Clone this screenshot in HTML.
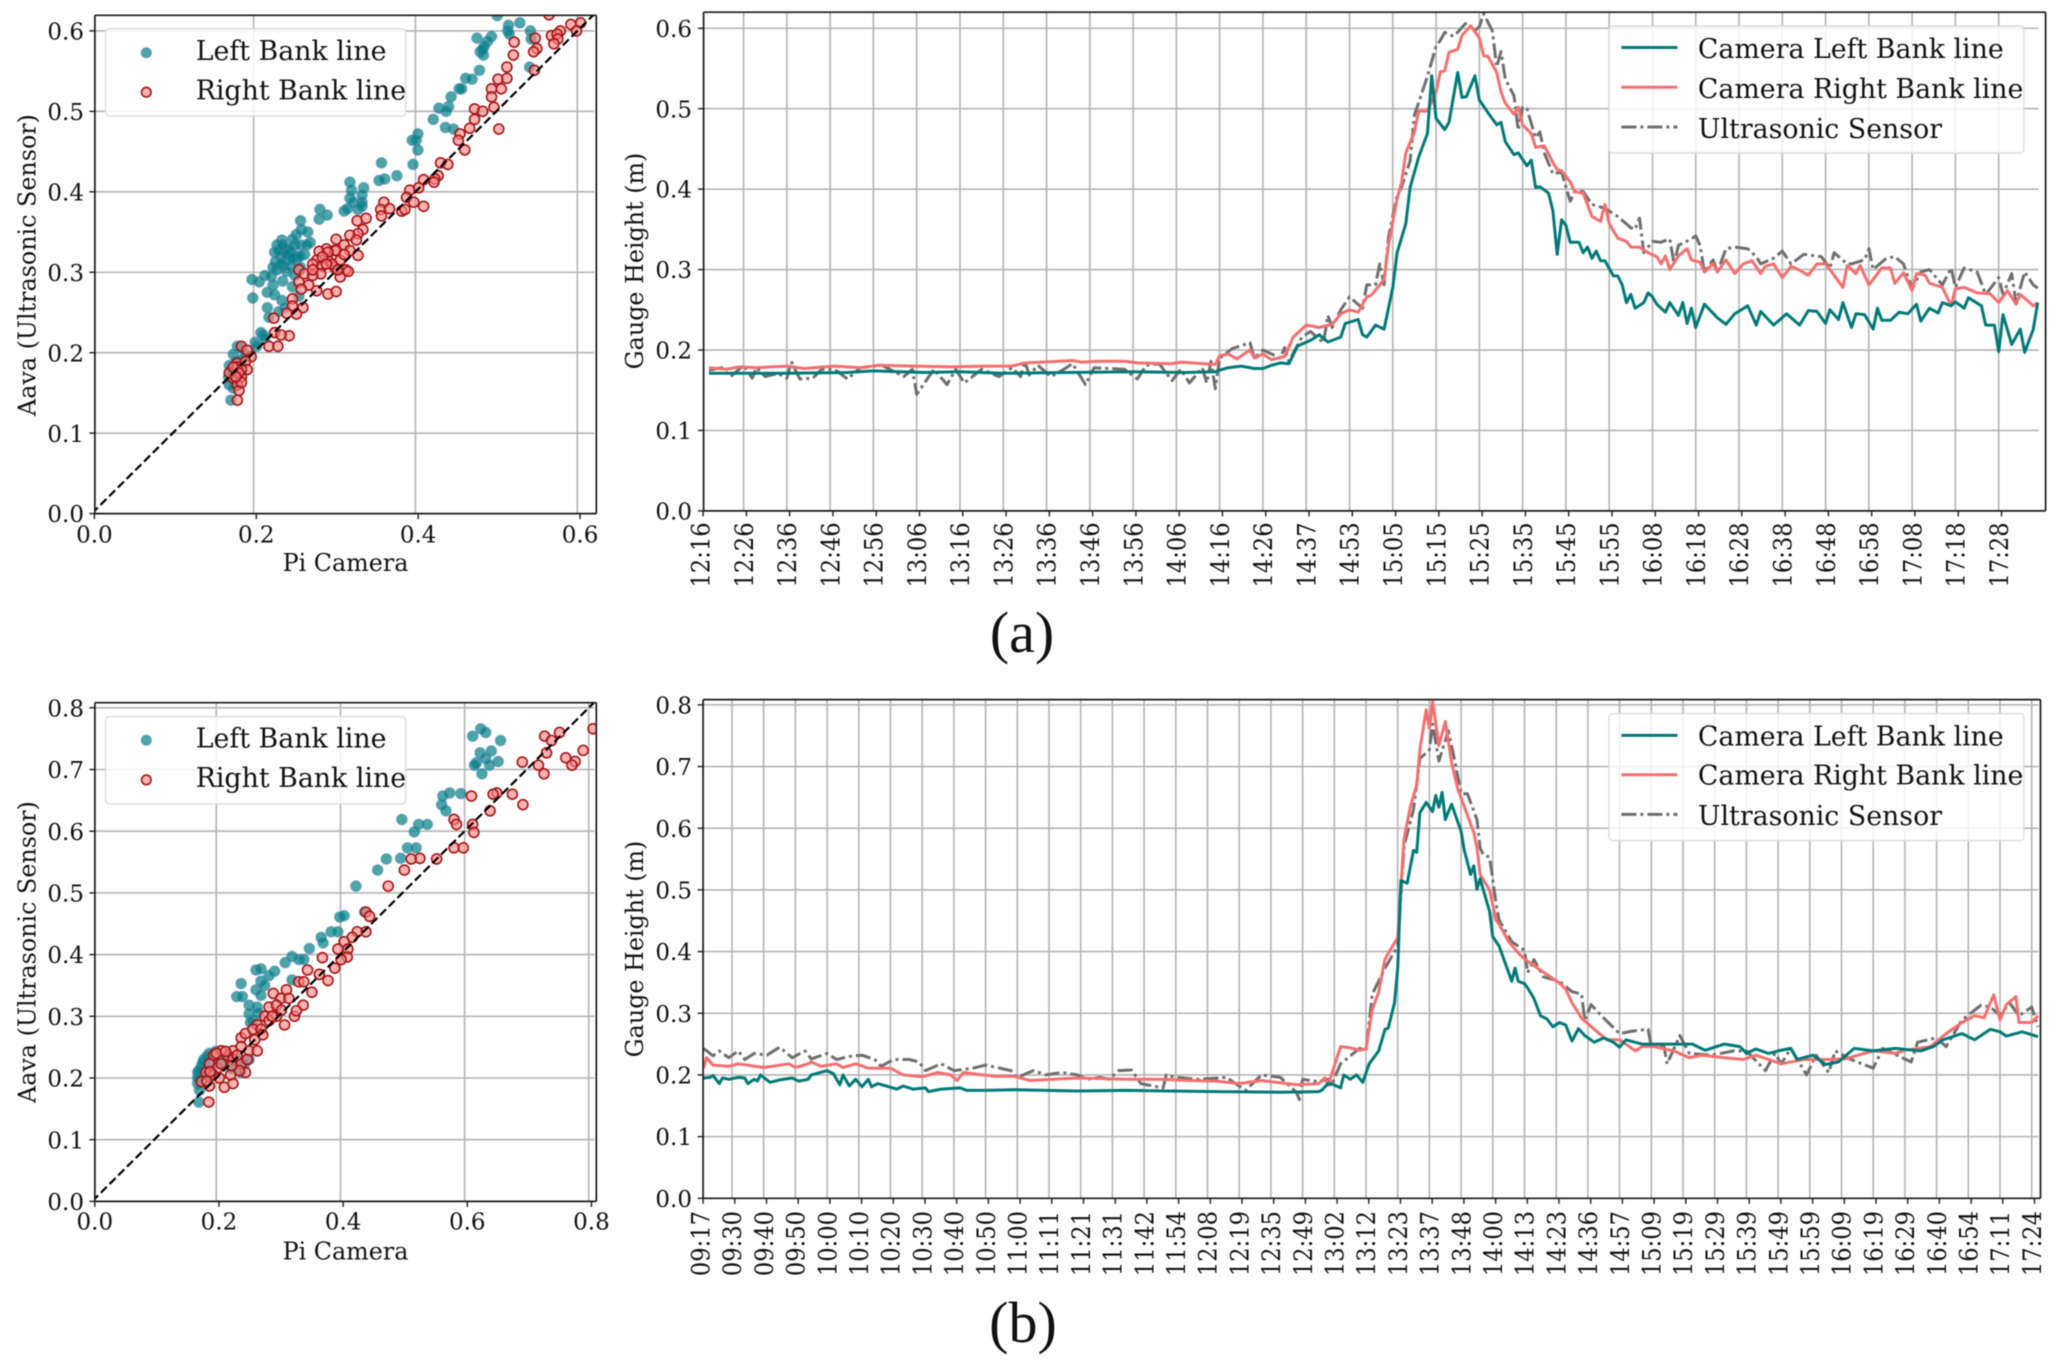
<!DOCTYPE html>
<html lang="en">
<head>
<meta charset="utf-8">
<title>Gauge height comparison charts</title>
<style>
html,body{margin:0;padding:0;background:#fff;width:2067px;height:1364px;overflow:hidden}
svg{display:block;filter:blur(0.45px)}
text{font-family:"DejaVu Serif","Liberation Serif",serif;fill:#111}
.caption{font-family:"Liberation Serif","DejaVu Serif",serif;font-size:58px}
</style>
</head>
<body>
<svg id="figure" xmlns="http://www.w3.org/2000/svg" width="2067" height="1364" viewBox="0 0 2067 1364">
  <rect x="0" y="0" width="2067" height="1364" fill="#fff"/>
  <text class="caption" x="1022" y="652" text-anchor="middle">(a)</text>
  <text class="caption" x="1023" y="1342" text-anchor="middle">(b)</text>
</svg>
<script>
// ---------- Chart data: panel (a) time series ----------
const aTimeLabels = ["12:16","12:26","12:36","12:46","12:56","13:06","13:16","13:26","13:36","13:46","13:56","14:06","14:16","14:26","14:37","14:53","15:05","15:15","15:25","15:35","15:45","15:55","16:08","16:18","16:28","16:38","16:48","16:58","17:08","17:18","17:28"];
const aLeftSample = [2,20,34,40,52,60,70,85,100,112,
119,120,122,125,128,130,132,134,136,138,
141,143,145,148,149,152,153,154,156,158,
160,161,163,164,166,168,169,170,172,173,
175,176,177,179,180,182,184,185,186,188,
189,191,192,193,194,196,197,198,199,200,
201,203,204,205,206,207,208,209,211,212,
213,214,215,216,218,219,220,221,223,224,
226,227,228,229,230,232,235,237,239,242,
244,245,248,251,254,256,258,260,261,263,
264,266,267,269,271,272,273,275,277,279,
281,282,284,286,287,289,290,292,293,296,
297,299,300,301,303,305,306,308,309];
const aLeftHeight = [.171,.171,.172,.174,.172,.173,.171,.172,.173,.172,
.173,.175,.178,.18,.177,.177,.181,.184,.183,.205,
.212,.219,.21,.216,.233,.238,.219,.216,.231,.226,
.278,.321,.357,.402,.44,.469,.541,.488,.474,.483,
.545,.514,.515,.541,.511,.495,.48,.483,.459,.443,
.445,.429,.436,.402,.403,.395,.373,.319,.362,.355,
.334,.334,.321,.328,.314,.323,.311,.311,.292,.292,
.281,.259,.269,.252,.259,.271,.266,.257,.247,.259,
.243,.259,.233,.252,.228,.257,.24,.232,.245,.255,
.231,.248,.231,.245,.231,.249,.248,.233,.25,.238,
.259,.228,.245,.244,.226,.252,.237,.237,.247,.245,
.257,.236,.252,.246,.259,.255,.26,.252,.265,.255,
.231,.231,.198,.244,.207,.226,.197,.226,.259];
const aRightSample = [2,6,9,13,20,24,31,37,41,50,
58,66,72,75,79,86,88,92,98,101,
109,111,119,120,122,124,127,128,130,132,
135,137,140,143,146,148,150,152,154,155,
157,158,159,161,162,163,165,166,168,170,
171,172,173,175,176,178,180,181,182,184,
185,186,188,189,190,192,193,195,197,198,
199,201,202,204,206,208,209,210,212,214,
215,217,219,221,222,223,224,226,228,229,
231,232,234,235,237,239,241,243,245,246,
248,250,252,253,256,258,260,261,264,265,
267,268,270,273,275,276,278,280,281,283,
284,287,289,290,292,295,298,300,302,304,
305,308,309];
const aRightHeight = [.178,.176,.179,.178,.18,.177,.18,.178,.181,.18,
.179,.18,.18,.184,.185,.187,.185,.186,.186,.184,
.183,.185,.182,.193,.195,.189,.2,.19,.195,.188,
.192,.216,.231,.228,.232,.245,.25,.247,.266,.268,
.281,.288,.331,.388,.407,.445,.471,.497,.497,.521,
.546,.547,.57,.574,.591,.603,.588,.566,.565,.545,
.521,.507,.493,.502,.48,.469,.452,.454,.433,.424,
.423,.409,.397,.395,.366,.36,.381,.357,.339,.335,
.328,.328,.321,.316,.307,.317,.3,.317,.326,.312,
.309,.297,.307,.297,.312,.295,.307,.311,.295,.304,
.307,.29,.304,.302,.293,.307,.307,.3,.278,.305,
.295,.305,.281,.302,.302,.283,.296,.274,.295,.293,
.283,.278,.255,.276,.278,.271,.27,.259,.274,.257,
.269,.255,.259];
const aSensorSample = [2,5,7,10,12,13,15,18,20,21,
23,26,28,31,34,37,42,47,49,50,
54,57,59,61,65,69,72,74,75,76,
78,81,84,86,89,91,98,101,103,106,
109,111,113,116,117,118,119,120,123,127,
128,130,134,135,136,139,141,144,145,146,
148,150,153,154,156,157,158,159,161,162,
164,165,168,170,171,172,174,175,177,179,
180,181,183,184,185,186,188,189,190,191,
193,194,195,197,199,201,202,204,206,209,
212,215,216,217,218,220,222,224,225,226,
229,230,231,232,234,235,237,239,242,244,
245,248,250,252,255,259,261,262,265,266,
269,270,271,274,276,278,280,282,284,287,
289,290,292,295,297,300,301,303,304,306,
308,309];
const aSensorHeight = [.175,.178,.167,.181,.165,.178,.167,.171,.165,.186,
.164,.165,.176,.176,.164,.178,.181,.167,.176,.145,
.176,.157,.176,.159,.176,.167,.178,.167,.186,.169,
.181,.167,.176,.183,.157,.178,.176,.164,.181,.183,
.162,.176,.159,.178,.159,.186,.152,.19,.202,.209,
.19,.2,.19,.203,.186,.216,.223,.209,.243,.228,
.25,.266,.252,.281,.281,.307,.281,.34,.392,.402,
.435,.492,.54,.578,.585,.595,.59,.595,.607,.597,
.602,.618,.597,.552,.571,.537,.516,.473,.502,.5,
.464,.471,.445,.419,.421,.385,.397,.397,.381,.376,
.366,.352,.35,.364,.321,.335,.334,.338,.307,.33,
.338,.342,.33,.297,.312,.297,.326,.328,.326,.316,
.307,.314,.323,.307,.319,.316,.302,.321,.307,.307,
.312,.326,.3,.314,.316,.307,.276,.297,.3,.281,
.302,.278,.302,.297,.269,.29,.269,.295,.259,.297,
.281,.277];

// ---------- Chart data: panel (b) time series ----------
const bTimeLabels = ["09:17","09:30","09:40","09:50","10:00","10:10","10:20","10:30","10:40","10:50","11:00","11:11","11:21","11:31","11:42","11:54","12:08","12:19","12:35","12:49","13:02","13:12","13:23","13:37","13:48","14:00","14:13","14:23","14:36","14:57","15:09","15:19","15:29","15:39","15:49","15:59","16:09","16:19","16:29","16:40","16:54","17:11","17:24"];
const bLeftSample = [1,3,4,6,7,9,12,14,15,17,
18,19,22,25,29,31,34,35,40,42,
44,45,47,49,51,53,54,56,62,64,
67,71,72,76,82,84,90,99,119,134,
148,163,183,195,196,198,199,202,203,205,
207,209,211,214,216,217,219,220,221,223,
225,226,227,229,231,232,233,234,235,237,
240,241,243,244,245,246,249,250,252,254,
256,257,258,260,261,263,265,267,269,271,
273,275,277,279,282,285,288,290,292,297,
303,307,313,317,323,328,330,333,337,340,
344,346,351,355,359,364,370,377,385,389,
392,398,402,407,410,412,417,422];
const bLeftHeight = [.195,.196,.199,.186,.195,.193,.196,.195,.186,.193,
.19,.2,.188,.192,.195,.19,.193,.2,.207,.202,
.184,.2,.182,.193,.181,.193,.181,.186,.177,.182,
.177,.179,.173,.177,.179,.175,.175,.176,.174,.175,
.174,.173,.172,.173,.175,.186,.186,.179,.2,.193,
.2,.188,.218,.239,.274,.276,.317,.373,.515,.511,
.564,.561,.625,.642,.627,.653,.634,.658,.614,.639,
.595,.564,.525,.539,.501,.518,.465,.424,.409,.38,
.352,.373,.352,.348,.341,.324,.296,.291,.278,.285,
.281,.255,.275,.264,.253,.26,.253,.245,.257,.25,
.25,.25,.25,.24,.25,.246,.235,.242,.235,.239,
.243,.225,.232,.217,.221,.243,.239,.243,.239,.246,
.257,.267,.257,.274,.27,.263,.27,.262];
const bRightSample = [1,2,4,9,12,20,28,30,34,35,
38,43,45,49,53,60,64,70,75,79,
81,83,89,93,99,104,119,134,146,154,
163,170,177,188,195,197,198,202,205,208,
210,212,214,216,220,222,224,226,227,229,
230,231,233,235,237,239,241,244,245,246,
249,251,252,255,258,260,265,271,273,275,
278,282,286,290,295,297,301,307,312,316,
323,329,333,341,348,355,361,370,377,380,
388,393,398,402,405,408,410,412,415,416,
420,422];
const bRightHeight = [.211,.228,.216,.214,.218,.212,.218,.212,.218,.221,
.214,.218,.212,.218,.211,.211,.2,.197,.204,.2,
.191,.204,.2,.198,.198,.191,.195,.193,.193,.191,
.19,.186,.191,.184,.186,.195,.183,.246,.244,.24,
.242,.306,.335,.388,.423,.582,.635,.67,.728,.792,
.762,.805,.734,.773,.706,.663,.635,.593,.568,.525,
.5,.451,.444,.416,.398,.388,.37,.349,.339,.317,
.292,.274,.257,.257,.239,.246,.246,.239,.228,.232,
.228,.225,.232,.218,.225,.225,.226,.239,.235,.24,
.246,.267,.285,.296,.293,.33,.289,.314,.327,.285,
.285,.296];
const bSensorSample = [1,4,6,9,12,14,17,21,25,29,
33,35,40,43,47,51,55,57,61,66,
69,71,76,80,86,90,98,100,105,109,
114,119,122,126,129,132,136,139,146,147,
150,157,166,172,177,183,188,189,190,195,
198,199,202,206,208,210,212,216,220,222,
225,227,230,231,233,236,238,240,242,245,
246,247,249,251,252,256,260,261,263,266,
271,275,278,279,281,285,290,294,299,300,
304,305,309,312,319,326,330,336,339,341,
344,349,352,356,358,363,370,373,382,384,
390,393,398,404,407,410,413,416,420,422];
const bSensorHeight = [.243,.231,.239,.228,.239,.225,.235,.232,.245,.228,
.239,.226,.235,.225,.23,.232,.225,.214,.225,.225,
.221,.207,.218,.207,.211,.216,.207,.196,.207,.2,
.204,.2,.193,.196,.193,.207,.208,.186,.179,.2,
.196,.193,.196,.175,.2,.196,.172,.16,.193,.189,
.193,.182,.218,.235,.243,.239,.331,.373,.409,.571,
.63,.713,.727,.769,.709,.758,.709,.656,.656,.614,
.568,.557,.553,.479,.451,.416,.402,.366,.387,.359,
.352,.335,.331,.289,.314,.292,.267,.271,.274,.246,
.246,.218,.264,.235,.232,.239,.239,.207,.235,.218,
.243,.2,.232,.204,.239,.225,.211,.243,.221,.253,
.26,.246,.289,.313,.31,.296,.317,.296,.31,.278];

// ---------- Chart data: panel (a) scatter ----------
const aScatterLeftCamera = [.501,.515,.514,.516,.529,.542,.543,.476,.494,.489,.485,.480,.484,.483,.479,.462,.470,.454,.457,.444,.441,.429,.438,.422,.437,.447,.403,.396,.401,.403,.397,.358,.355,.362,.377,.319,.321,.336,.319,.334,.323,.334,.312,.316,.329,.334,.282,.281,.291,.541,
.258,.259,.267,.253,.248,.270,.235,.229,.239,.251,.258,.246,.263,.226,.234,.241,.253,.227,.236,.246,.258,.229,.241,.251,.214,.222,.198,.207,.224,.236,.248,.217,.226,.199,.235,.256,.239,.217,.219,.231,
.244,.231,.236,.253,.241,.234,.248,.224,.258,.266,
.209,.212,.202,.214,.204,.180,.185,.175,.190,.178,.170,.175,.169,.180,.170,.175,.172,.178,.173,.185];
const aScatterLeftSensor = [.619,.607,.600,.596,.610,.600,.590,.591,.593,.587,.581,.574,.570,.577,.551,.541,.540,.528,.528,.518,.506,.504,.500,.490,.480,.478,.472,.464,.464,.452,.434,.436,.414,.416,.420,.412,.402,.405,.392,.396,.387,.387,.376,.379,.378,.382,.378,.366,.371,.555,
.364,.353,.350,.347,.341,.337,.340,.334,.329,.334,.334,.325,.322,.325,.320,.315,.315,.313,.308,.308,.306,.303,.301,.296,.296,.295,.291,.288,.284,.289,.282,.275,.272,.268,.265,.270,.256,.256,.244,.251,
.329,.327,.334,.320,.322,.311,.318,.306,.320,.334,
.225,.222,.213,.218,.208,.208,.206,.198,.198,.189,.184,.175,.170,.179,.160,.156,.141,.165,.179,.191];
const aScatterRightCamera = [.565,.604,.592,.599,.579,.568,.575,.576,.571,.548,.522,.550,.546,.521,.513,.547,.502,.513,.494,.506,.494,.473,.497,.483,.473,.467,.503,.455,.453,.461,.431,.440,.428,.424,.423,.410,.393,.404,.389,.398,.410,.361,.357,.368,.358,.383,.387,.328,.339,.335,
.329,.319,.302,.327,.312,.290,.281,.300,.319,.329,.278,.292,.307,.273,.285,.300,.314,.256,.263,.283,.317,.256,.273,.307,.268,.259,.278,.292,.302,.248,.248,.261,.241,.253,.225,.226,.244,.234,.219,.230,
.197,.185,.192,.180,.190,.178,.192,.185,.175,.180,.182,.180,.185,.170,
.302,.292,.312,.285,.297,.304,.290,.273,.180,.185,.175,.182,.178];
const aScatterRightSensor = [.620,.610,.608,.600,.600,.594,.596,.590,.584,.591,.586,.578,.574,.570,.555,.551,.540,.541,.528,.528,.518,.503,.505,.500,.490,.479,.478,.472,.464,.452,.436,.434,.420,.416,.412,.415,.402,.405,.393,.387,.382,.387,.378,.379,.370,.376,.378,.364,.367,.353,
.348,.346,.341,.340,.334,.329,.326,.327,.327,.321,.315,.315,.315,.310,.308,.306,.303,.303,.298,.298,.301,.288,.296,.294,.284,.279,.277,.273,.276,.267,.258,.256,.249,.248,.243,.225,.221,.222,.208,.208,
.195,.208,.203,.187,.189,.177,.179,.170,.168,.160,.153,.141,.163,.175,
.327,.325,.322,.319,.310,.303,.310,.303,.182,.179,.182,.175,.170];

// ---------- Chart data: panel (b) scatter ----------
const bScatterLeftCamera = [.626,.634,.613,.658,.643,.625,.634,.654,.619,.616,.640,.628,.576,.565,.594,.563,.570,.499,.526,.540,.519,.508,.522,.497,.474,.460,.425,.439,.399,.406,.385,.396,.369,.372,.350,.311,.322,.333,.341,.322,.264,.272,.240,.233,.242,.264,.272,.294,.285,.272,.278,.253,.266,.253,.259,
.189,.199,.180,.176,.170,.170,.173,.172,.183,.196,.208,.234,.253,.240,.189,
.175,.178,.185,.170,.172,.182,.192,.215,.225,.245,.268,.255];
const bScatterLeftSensor = [.766,.760,.754,.747,.730,.727,.718,.713,.711,.707,.707,.693,.662,.657,.661,.643,.633,.619,.611,.611,.599,.573,.573,.556,.555,.537,.511,.469,.461,.463,.437,.437,.428,.419,.410,.387,.397,.392,.392,.359,.375,.377,.353,.332,.332,.343,.334,.373,.366,.357,.350,.318,.315,.304,.293,
.240,.243,.230,.219,.209,.191,.180,.161,.216,.223,.223,.230,.230,.209,.201,
.200,.225,.235,.200,.212,.205,.213,.235,.215,.222,.305,.290];
const bScatterRightCamera = [.807,.753,.729,.740,.732,.791,.763,.778,.773,.719,.693,.728,.611,.677,.652,.646,.694,.641,.583,.587,.613,.615,.583,.598,.555,.528,.514,.503,.477,.441,.447,.441,.427,.419,.406,.396,.412,.411,.401,.391,.380,.371,.347,.366,.354,.333,.341,.292,.313,.340,.326,.304,.317,.329,.285,.266,.278,.297,.240,.247,.259,.272,.227,.240,.253,.266,.218,.227,.240,.208,.196,.189,.202,.183,.176,.189,.188,.213,.227,.247,.237,.223,.208,.234,.250,.285,.297,.310,
.200,.215,.195,.205,.225,.262,.275,.290,.305,.190,.185];
const bScatterRightSensor = [.766,.760,.754,.747,.727,.731,.719,.713,.707,.707,.712,.693,.657,.660,.662,.660,.643,.633,.619,.611,.611,.598,.573,.573,.555,.556,.555,.537,.511,.469,.462,.437,.437,.428,.421,.409,.409,.396,.392,.378,.358,.395,.375,.368,.339,.356,.356,.337,.343,.318,.300,.329,.329,.309,.315,.286,.300,.300,.265,.272,.279,.279,.244,.251,.244,.244,.237,.230,.223,.244,.237,.223,.216,.209,.194,.187,.161,.185,.191,.209,.212,.205,.223,.237,.230,.293,.318,.286,
.240,.243,.205,.200,.220,.262,.270,.300,.310,.210,.195];

// ---------- Axis tick values ----------
const gaugeTicksA = [0,.1,.2,.3,.4,.5,.6];
const gaugeTicksB = [0,.1,.2,.3,.4,.5,.6,.7,.8];
const scatterXTicksA = [0,.2,.4,.6];
const scatterXTicksB = [0,.2,.4,.6,.8];

const NS = 'http://www.w3.org/2000/svg';
const fig = document.getElementById('figure');
const GRID = '#b4b4b4', TEAL = '#007a78', CORAL = '#f66f6f', SENSOR = '#6f6f6f', SPINE = '#1a1a1a';

function add(parent, tag, attrs, txt) {
  const el = document.createElementNS(NS, tag);
  for (const k in attrs) el.setAttribute(k, attrs[k]);
  if (txt !== undefined) el.textContent = txt;
  parent.appendChild(el);
  return el;
}
function hLine(parent, x1, x2, y, color, w) {
  return add(parent, 'line', {x1: x1, x2: x2, y1: y, y2: y, stroke: color, 'stroke-width': w});
}
function vLine(parent, x, y1, y2, color, w) {
  return add(parent, 'line', {x1: x, x2: x, y1: y1, y2: y2, stroke: color, 'stroke-width': w});
}

function drawSpines(g, b, prefix) {
  const top = hLine(g, b.left, b.right, b.top, SPINE, 1.7);
  
  
  const bottom = hLine(g, b.left, b.right, b.bottom, SPINE, 1.7);
  
  
  const leftS = vLine(g, b.left, b.top, b.bottom, SPINE, 1.7);
  
  
  const rightS = vLine(g, b.right, b.top, b.bottom, SPINE, 1.7);
  
  
}

function drawYAxis(g, b, ticks, yOf, prefix, labelText, labelX, labelY, labelRight, gridRight) {
  ticks.forEach(function (v) {
    const y = yOf(v);
    if (v > 0) {
      const gl = hLine(g, b.left, gridRight, y, GRID, 1.6);
      
      
    }
    const tm = hLine(g, b.left - 5.5, b.left, y, SPINE, 1.4);
    
    
    const tl = add(g, 'text', {x: labelRight, y: y + 8.6, 'text-anchor': 'end', 'font-size': 23}, v.toFixed(1));
    
    
  });
  const t = add(g, 'text', {transform: 'translate(' + labelX + ',' + labelY + ') rotate(-90)', 'text-anchor': 'middle', 'font-size': 23.8}, labelText);
  
  
}

function drawLegendBox(g, box, prefix) {
  const r = add(g, 'rect', {x: box.x1, y: box.y1, width: box.x2 - box.x1, height: box.y2 - box.y1, rx: 4, ry: 4, fill: 'rgba(255,255,255,0.82)', stroke: '#dcdcdc', 'stroke-width': 1.4});
  
  
}

function drawSeries(g, samples, heights, xOf, yOf, color, width, dash, clipId, name) {
  const pts = samples.map(function (s, i) { return xOf(s).toFixed(1) + ',' + yOf(heights[i]).toFixed(1); }).join(' ');
  const attrs = {points: pts, fill: 'none', stroke: color, 'stroke-width': width, 'stroke-linejoin': 'round', 'clip-path': 'url(#' + clipId + ')'};
  if (dash) attrs['stroke-dasharray'] = dash;
  const line = add(g, 'polyline', attrs);
  
  
}

function drawTimePanel(c) {
  const g = add(fig, 'g', {});
  
  
  const b = c.box;
  const clip = add(add(g, 'defs', {}), 'clipPath', {id: c.prefix + '-clip'});
  add(clip, 'rect', {x: b.left, y: b.top, width: b.right - b.left, height: b.bottom - b.top});
  const tickX = function (i) { return c.tick0 + i * c.tickStep; };
  const gridX = function (i) { return tickX(i) - 2.8; };
  const xOf = function (s) { return gridX(s / 10); };
  const yOf = function (v) { return b.bottom - v * c.yScale; };
  c.labels.forEach(function (lab, i) {
    if (i > 0) {
      const gl = vLine(g, gridX(i), b.top, b.bottom, GRID, 1.6);
      
      
    }
    const tm = vLine(g, tickX(i), b.bottom, b.bottom + 5.5, SPINE, 1.4);
    
    
    const tx = tickX(i) + 6.4;
    const tl = add(g, 'text', {transform: 'translate(' + tx + ',' + c.labelEnd + ') rotate(-90) scale(1,1.1)', 'text-anchor': 'end', 'font-size': 22.6}, lab);
    
    
  });
  drawYAxis(g, b, c.yTicks, yOf, c.prefix, 'Gauge Height (m)', 643, c.titleY, 692, 2038.6);
  drawSeries(g, c.sensorS, c.sensorH, xOf, yOf, SENSOR, 3, '15 4 3 4', c.prefix + '-clip', c.prefix + '-ultrasonic-sensor-line');
  drawSeries(g, c.rightS, c.rightH, xOf, yOf, CORAL, 3, null, c.prefix + '-clip', c.prefix + '-camera-right-bank-line');
  drawSeries(g, c.leftS, c.leftH, xOf, yOf, TEAL, 3, null, c.prefix + '-clip', c.prefix + '-camera-left-bank-line');
  drawSpines(g, b, c.prefix);
  drawLegendBox(g, c.legend, c.prefix);
  const names = ['Camera Left Bank line', 'Camera Right Bank line', 'Ultrasonic Sensor'];
  const colors = [TEAL, CORAL, SENSOR];
  names.forEach(function (nm, i) {
    const attrs = {x1: 1621.4, x2: 1677.5, y1: c.legendLineY[i], y2: c.legendLineY[i], stroke: colors[i], 'stroke-width': 3};
    if (i === 2) attrs['stroke-dasharray'] = '15 4 3 4';
    const sw = add(g, 'line', attrs);
    
    
    const tx = add(g, 'text', {x: 1697.9, y: c.legendTextY[i], 'font-size': 26.8}, nm);
    
    
  });
}

function drawScatterPanel(c) {
  const g = add(fig, 'g', {});
  
  
  const b = c.box;
  const clip = add(add(g, 'defs', {}), 'clipPath', {id: c.prefix + '-clip'});
  add(clip, 'rect', {x: b.left, y: b.top, width: b.right - b.left, height: b.bottom - b.top});
  const xOf = function (v) { return c.x0 + v * c.xScale; };
  const yOf = function (v) { return b.bottom - v * c.yScale; };
  c.xTicks.forEach(function (v) {
    if (v > 0) {
      const gl = vLine(g, xOf(v), b.top, b.bottom, GRID, 1.6);
      
      
    }
    const tickPos = xOf(v) + 2.7;
    const tm = vLine(g, tickPos, b.bottom, b.bottom + 5.5, SPINE, 1.4);
    
    
    const tl = add(g, 'text', {x: tickPos, y: c.xLabelY, 'text-anchor': 'middle', 'font-size': 23}, v.toFixed(1));
    
    
  });
  drawYAxis(g, b, c.yTicks, yOf, c.prefix, 'Aava (Ultrasonic Sensor)', 35.5, c.titleY, 84, 594.3);
  c.leftX.forEach(function (v, i) {
    const p = add(g, 'circle', {cx: xOf(v), cy: yOf(c.leftY[i]), r: 5.2, fill: 'rgba(0,128,128,0.7)', stroke: 'rgba(70,130,180,0.55)', 'stroke-width': 1.3, 'clip-path': 'url(#' + c.prefix + '-clip)'});
    
    
  });
  c.rightX.forEach(function (v, i) {
    const p = add(g, 'circle', {cx: xOf(v), cy: yOf(c.rightY[i]), r: 5, fill: 'rgba(255,130,130,0.62)', stroke: '#a31515', 'stroke-width': 1.6, 'clip-path': 'url(#' + c.prefix + '-clip)'});
    
    
  });
  const maxV = c.identityMax;
  const refLine = add(g, 'line', {x1: xOf(0), y1: yOf(0), x2: xOf(maxV), y2: yOf(maxV), stroke: '#000', 'stroke-width': 2.2, 'stroke-dasharray': '8.5 3.8', 'clip-path': 'url(#' + c.prefix + '-clip)'});
  
  
  drawSpines(g, b, c.prefix);
  const xt = add(g, 'text', {x: 345.5, y: c.xTitleY, 'text-anchor': 'middle', 'font-size': 23.8}, 'Pi Camera');
  
  
  drawLegendBox(g, c.legend, c.prefix);
  const m1 = add(g, 'circle', {cx: 146.3, cy: c.markerY[0], r: 5, fill: 'rgba(0,128,128,0.7)', stroke: 'rgba(70,130,180,0.55)', 'stroke-width': 1.3});
  
  
  const m2 = add(g, 'circle', {cx: 146.3, cy: c.markerY[1], r: 4.8, fill: 'rgba(255,130,130,0.62)', stroke: '#a31515', 'stroke-width': 1.6});
  
  
  const t1 = add(g, 'text', {x: 195.7, y: c.legendTextY[0], 'font-size': 26.8}, 'Left Bank line');
  
  
  const t2 = add(g, 'text', {x: 195.7, y: c.legendTextY[1], 'font-size': 26.8}, 'Right Bank line');
  
  
}

drawScatterPanel({
  prefix: 'panel-a-scatter', box: {left: 94.9, right: 596.3, top: 15.3, bottom: 513.6},
  x0: 91.7, xScale: 809.4, yScale: 804.5, xTicks: scatterXTicksA, yTicks: gaugeTicksA, identityMax: 0.7,
  xLabelY: 542.3, xTitleY: 571, titleY: 265,
  leftX: aScatterLeftCamera, leftY: aScatterLeftSensor, rightX: aScatterRightCamera, rightY: aScatterRightSensor,
  legend: {x1: 105.6, x2: 405.7, y1: 28.7, y2: 116}, markerY: [52.8, 92.2], legendTextY: [60, 99.5]
});
drawScatterPanel({
  prefix: 'panel-b-scatter', box: {left: 94.9, right: 596.3, top: 702.7, bottom: 1201.4},
  x0: 92.1, xScale: 620.8, yScale: 617, xTicks: scatterXTicksB, yTicks: gaugeTicksB, identityMax: 0.9,
  xLabelY: 1229.7, xTitleY: 1259.4, titleY: 952,
  leftX: bScatterLeftCamera, leftY: bScatterLeftSensor, rightX: bScatterRightCamera, rightY: bScatterRightSensor,
  legend: {x1: 105.6, x2: 405.7, y1: 716.6, y2: 803.9}, markerY: [740.2, 779.9], legendTextY: [747.6, 786.9]
});
drawTimePanel({
  prefix: 'panel-a-series', box: {left: 703.6, right: 2045.6, top: 12.2, bottom: 510.9},
  tick0: 703.1, tickStep: 43.28, yScale: 804.4, labels: aTimeLabels, yTicks: gaugeTicksA, labelEnd: 522.4, titleY: 261,
  leftS: aLeftSample, leftH: aLeftHeight, rightS: aRightSample, rightH: aRightHeight, sensorS: aSensorSample, sensorH: aSensorHeight,
  legend: {x1: 1608.9, x2: 2023.8, y1: 26, y2: 153}, legendLineY: [47.5, 87.3, 127], legendTextY: [58, 98, 137.8]
});
drawTimePanel({
  prefix: 'panel-b-series', box: {left: 703.1, right: 2040.5, top: 699.6, bottom: 1198.3},
  tick0: 703.1, tickStep: 31.7, yScale: 616.8, labels: bTimeLabels, yTicks: gaugeTicksB, labelEnd: 1211, titleY: 949,
  leftS: bLeftSample, leftH: bLeftHeight, rightS: bRightSample, rightH: bRightHeight, sensorS: bSensorSample, sensorH: bSensorHeight,
  legend: {x1: 1608.9, x2: 2023.8, y1: 713.6, y2: 840.6}, legendLineY: [735.4, 774.7, 814.4], legendTextY: [745.4, 784.7, 824.9]
});
</script>
</body>
</html>
